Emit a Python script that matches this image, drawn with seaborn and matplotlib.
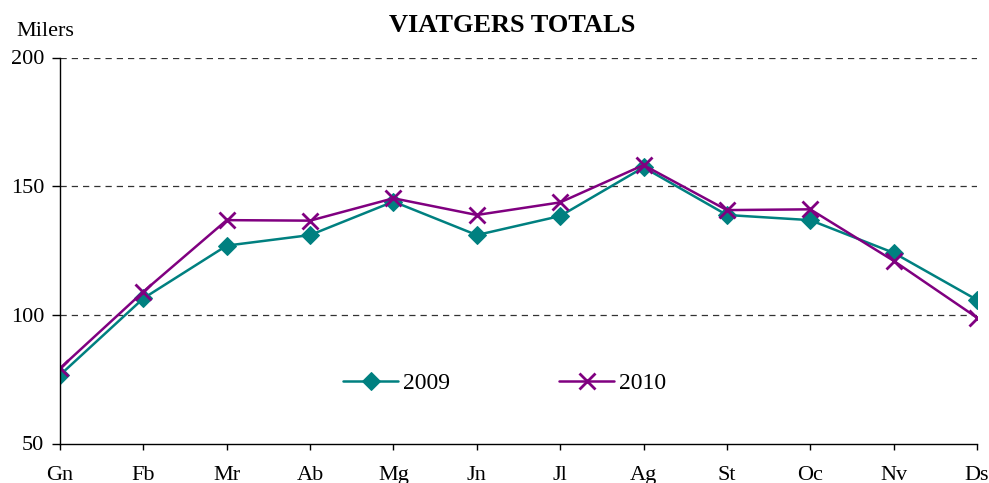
import matplotlib
matplotlib.use("Agg")
import matplotlib.pyplot as plt
import seaborn as sns
import pandas as pd

months = ["Gn", "Fb", "Mr", "Ab", "Mg", "Jn", "Jl", "Ag", "St", "Oc", "Nv", "Ds"]
v2009 = [76.6, 106.4, 126.9, 131.0, 144.0, 131.0, 138.4, 157.3, 138.8, 136.8, 124.1, 105.8]
v2010 = [79.2, 109.0, 136.8, 136.6, 145.3, 138.8, 143.7, 158.2, 140.7, 141.0, 121.0, 98.9]
yticks = [50, 100, 150, 200]

sns.set_theme(style="white")
plt.rcParams["font.family"] = ["Liberation Serif", "DejaVu Serif"]
plt.rcParams["text.color"] = "black"

fig = plt.figure(figsize=(9.89, 4.83), dpi=100)
ax = fig.add_axes([60/989, 1-443.5/483, (977-60)/989, (443.5-57.5)/483])

x = list(range(len(months)))
df1 = pd.DataFrame({"x": x, "v": v2009})
df2 = pd.DataFrame({"x": x, "v": v2010})

sns.lineplot(data=df1, x="x", y="v", ax=ax, color="#008080", linewidth=1.8,
             marker="D", markersize=9, markeredgecolor="#008080", label="2009")
sns.lineplot(data=df2, x="x", y="v", ax=ax, color="#800080", linewidth=1.8,
             marker="x", markersize=11, markeredgewidth=2, markeredgecolor="#800080", label="2010")

ax.set_xlim(0, 11)
ax.set_ylim(50, 200)
ax.set_xticks(x)
ax.set_xticklabels(months)
ax.set_yticks(yticks)
ax.set_xlabel("")
ax.set_ylabel("")
for yv in yticks[1:]:
    ax.axhline(yv, color="#333333", linestyle=(0, (5, 4)), linewidth=0.9, zorder=0)

for s in ["top", "right"]:
    ax.spines[s].set_visible(False)
for s in ["left", "bottom"]:
    ax.spines[s].set_color("black")
    ax.spines[s].set_linewidth(1)

ax.tick_params(axis="both", which="major", labelsize=16, colors="black",
               direction="out", width=1, left=True, bottom=True)
ax.tick_params(axis="x", length=4, pad=12)
ax.tick_params(axis="y", length=5.5, pad=6)

fig.text(16/989, 1-31/483, "Milers", fontsize=16, va="center", ha="left", color="black")
fig.text(512/989, 1-25/483, "VIATGERS TOTALS", fontsize=19, fontweight="bold",
         va="center", ha="center", color="black")

leg = ax.legend(loc="center left", bbox_to_anchor=((343-60)/917, (443.5-383)/386),
                ncol=2, frameon=False, fontsize=17, handlelength=2.35,
                columnspacing=4.6, handletextpad=0.2, borderaxespad=0, borderpad=0)
for t in leg.get_texts():
    t.set_color("black")

fig.savefig("out.png", dpi=100)
